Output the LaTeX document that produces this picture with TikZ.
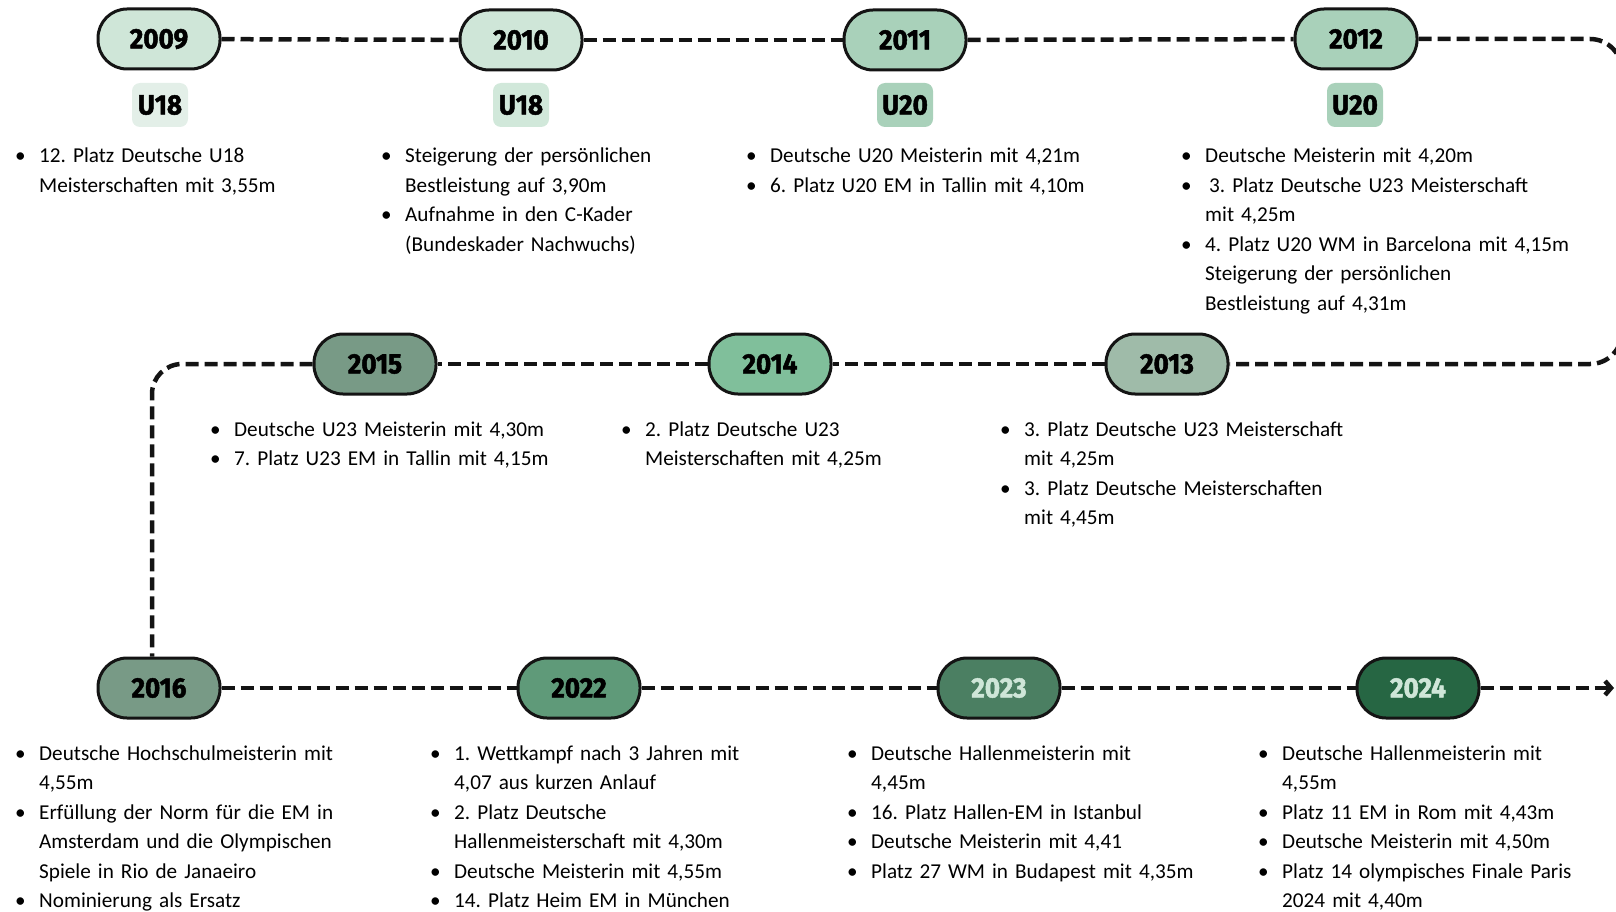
\documentclass[tikz,border=0pt]{standalone}
\usepackage{fontspec}
\setmainfont{Carlito}
\newfontfamily\yearfont{Fira Sans}[FakeStretch=0.93,FakeBold=1.8]
\usetikzlibrary{arrows.meta}
\definecolor{mintpale}{HTML}{E3EFE8}
\definecolor{mintlight}{HTML}{CFE6D8}
\definecolor{mintbadge}{HTML}{D1E8DA}
\definecolor{mintmid}{HTML}{A9D1BA}
\definecolor{sagegrey}{HTML}{9FBBA9}
\definecolor{leafgreen}{HTML}{80BF9B}
\definecolor{sagedark}{HTML}{789A86}
\definecolor{forestmid}{HTML}{5F9A79}
\definecolor{forestdark}{HTML}{4B7F62}
\definecolor{pinegreen}{HTML}{266643}
\definecolor{inkline}{HTML}{141414}
\newcommand{\fact}[1]{\leavevmode\makebox[24pt][l]{\textbullet}#1\par}
\newcommand{\wrapline}{\newline\hspace*{24pt}}
\begin{document}
\begin{tikzpicture}[x=1pt,y=-1pt,
  year/.style={draw=inkline, line width=3pt, rounded corners=29pt,
    minimum width=122pt, minimum height=60pt, inner sep=0pt,
    font=\yearfont\bfseries\fontsize{28}{28}\selectfont},
  agegroup/.style={rounded corners=8pt, minimum width=56pt, minimum height=44pt,
    inner sep=0pt, font=\yearfont\bfseries\fontsize{28}{28}\selectfont},
  facts/.style={anchor=base west, inner sep=0pt, text width=460pt,
    font=\fontsize{21.2}{29.5}\selectfont, execute at begin node=\frenchspacing},
  trail/.style={draw=inkline, line width=4.5pt, dash pattern=on 13pt off 6pt}]
\useasboundingbox (0,0) rectangle (1616,912);

% first row
\node[year, fill=mintlight] (y2009) at (159,39) {2009};
\node[year, fill=mintlight] (y2010) at (521,40) {2010};
\node[year, fill=mintmid] (y2011) at (905,40) {2011};
\node[year, fill=mintmid] (y2012) at (1356,39) {2012};
\node[agegroup, fill=mintpale] (u2009) at (160,105) {U18};
\node[agegroup, fill=mintbadge] (u2010) at (521,105) {U18};
\node[agegroup, fill=mintmid] (u2011) at (905,105) {U20};
\node[agegroup, fill=mintmid] (u2012) at (1355,105) {U20};

\node[facts] (f2009) at (15,163) {\fact{12. Platz Deutsche U18\wrapline Meisterschaften mit 3,55m}};
\node[facts] (f2010) at (381,163) {\fact{Steigerung der persönlichen\wrapline Bestleistung auf 3,90m}
  \fact{Aufnahme in den C-Kader\wrapline (Bundeskader Nachwuchs)}};
\node[facts] (f2011) at (746,163) {\fact{Deutsche U20 Meisterin mit 4,21m}
  \fact{6. Platz U20 EM in Tallin mit 4,10m}};
\node[facts] (f2012) at (1181,163) {\fact{Deutsche Meisterin mit 4,20m}
  \fact{\hspace{4pt}3. Platz Deutsche U23 Meisterschaft\wrapline mit 4,25m}
  \fact{4. Platz U20 WM in Barcelona mit 4,15m\wrapline Steigerung der persönlichen\wrapline Bestleistung auf 4,31m}};

% second row
\node[year, fill=sagedark] (y2015) at (375,364) {2015};
\node[year, fill=leafgreen] (y2014) at (770,364) {2014};
\node[year, fill=sagegrey] (y2013) at (1167,364) {2013};

\node[facts] (f2015) at (210,436) {\fact{Deutsche U23 Meisterin mit 4,30m}
  \fact{7. Platz U23 EM in Tallin mit 4,15m}};
\node[facts] (f2014) at (621,436) {\fact{2. Platz Deutsche U23\wrapline Meisterschaften mit 4,25m}};
\node[facts] (f2013) at (1000,436) {\fact{3. Platz Deutsche U23 Meisterschaft\wrapline mit 4,25m}
  \fact{3. Platz Deutsche Meisterschaften\wrapline mit 4,45m}};

% third row
\node[year, fill=sagedark] (y2016) at (159,688) {2016};
\node[year, fill=forestmid] (y2022) at (579,688) {2022};
\node[year, fill=forestdark, text=mintlight] (y2023) at (999,688) {2023};
\node[year, fill=pinegreen, text=mintlight] (y2024) at (1418,688) {2024};

\node[facts] (f2016) at (15,760) {\fact{Deutsche Hochschulmeisterin mit\wrapline 4,55m}
  \fact{Erfüllung der Norm für die EM in\wrapline Amsterdam und die Olympischen\wrapline Spiele in Rio de Janaeiro}
  \fact{Nominierung als Ersatz}};
\node[facts] (f2022) at (430,760) {\fact{1. Wettkampf nach 3 Jahren mit\wrapline 4,07 aus kurzen Anlauf}
  \fact{2. Platz Deutsche\wrapline Hallenmeisterschaft mit 4,30m}
  \fact{Deutsche Meisterin mit 4,55m}
  \fact{14. Platz Heim EM in München}};
\node[facts] (f2023) at (847,760) {\fact{Deutsche Hallenmeisterin mit\wrapline 4,45m}
  \fact{16. Platz Hallen-EM in Istanbul}
  \fact{Deutsche Meisterin mit 4,41}
  \fact{Platz 27 WM in Budapest mit 4,35m}};
\node[facts] (f2024) at (1258,760) {\fact{Deutsche Hallenmeisterin mit\wrapline 4,55m}
  \fact{Platz 11 EM in Rom mit 4,43m}
  \fact{Deutsche Meisterin mit 4,50m}
  \fact{Platz 14 olympisches Finale Paris\wrapline 2024 mit 4,40m}};

% the dashed trail
\coordinate (turnright) at (1622,39);
\coordinate (turnleft) at (152,364);
\coordinate (trailend) at (1614,688);
\draw[trail] (y2009) -- (y2010);
\draw[trail] (y2010) -- (y2011);
\draw[trail] (y2011) -- (y2012);
\draw[trail, rounded corners=32pt] (y2012.east) -- (turnright) -- (turnright |- y2013) -- (y2013.east);
\draw[trail] (y2013) -- (y2014);
\draw[trail] (y2014) -- (y2015);
\draw[trail, rounded corners=30pt] (y2015.west) -- (turnleft) -- (turnleft |- y2016.north);
\draw[trail] (y2016) -- (y2022);
\draw[trail] (y2022) -- (y2023);
\draw[trail] (y2023) -- (y2024);
\draw[trail, -{Straight Barb[length=6pt,width=14pt]}] (y2024) -- (trailend);
\end{tikzpicture}
\end{document}
